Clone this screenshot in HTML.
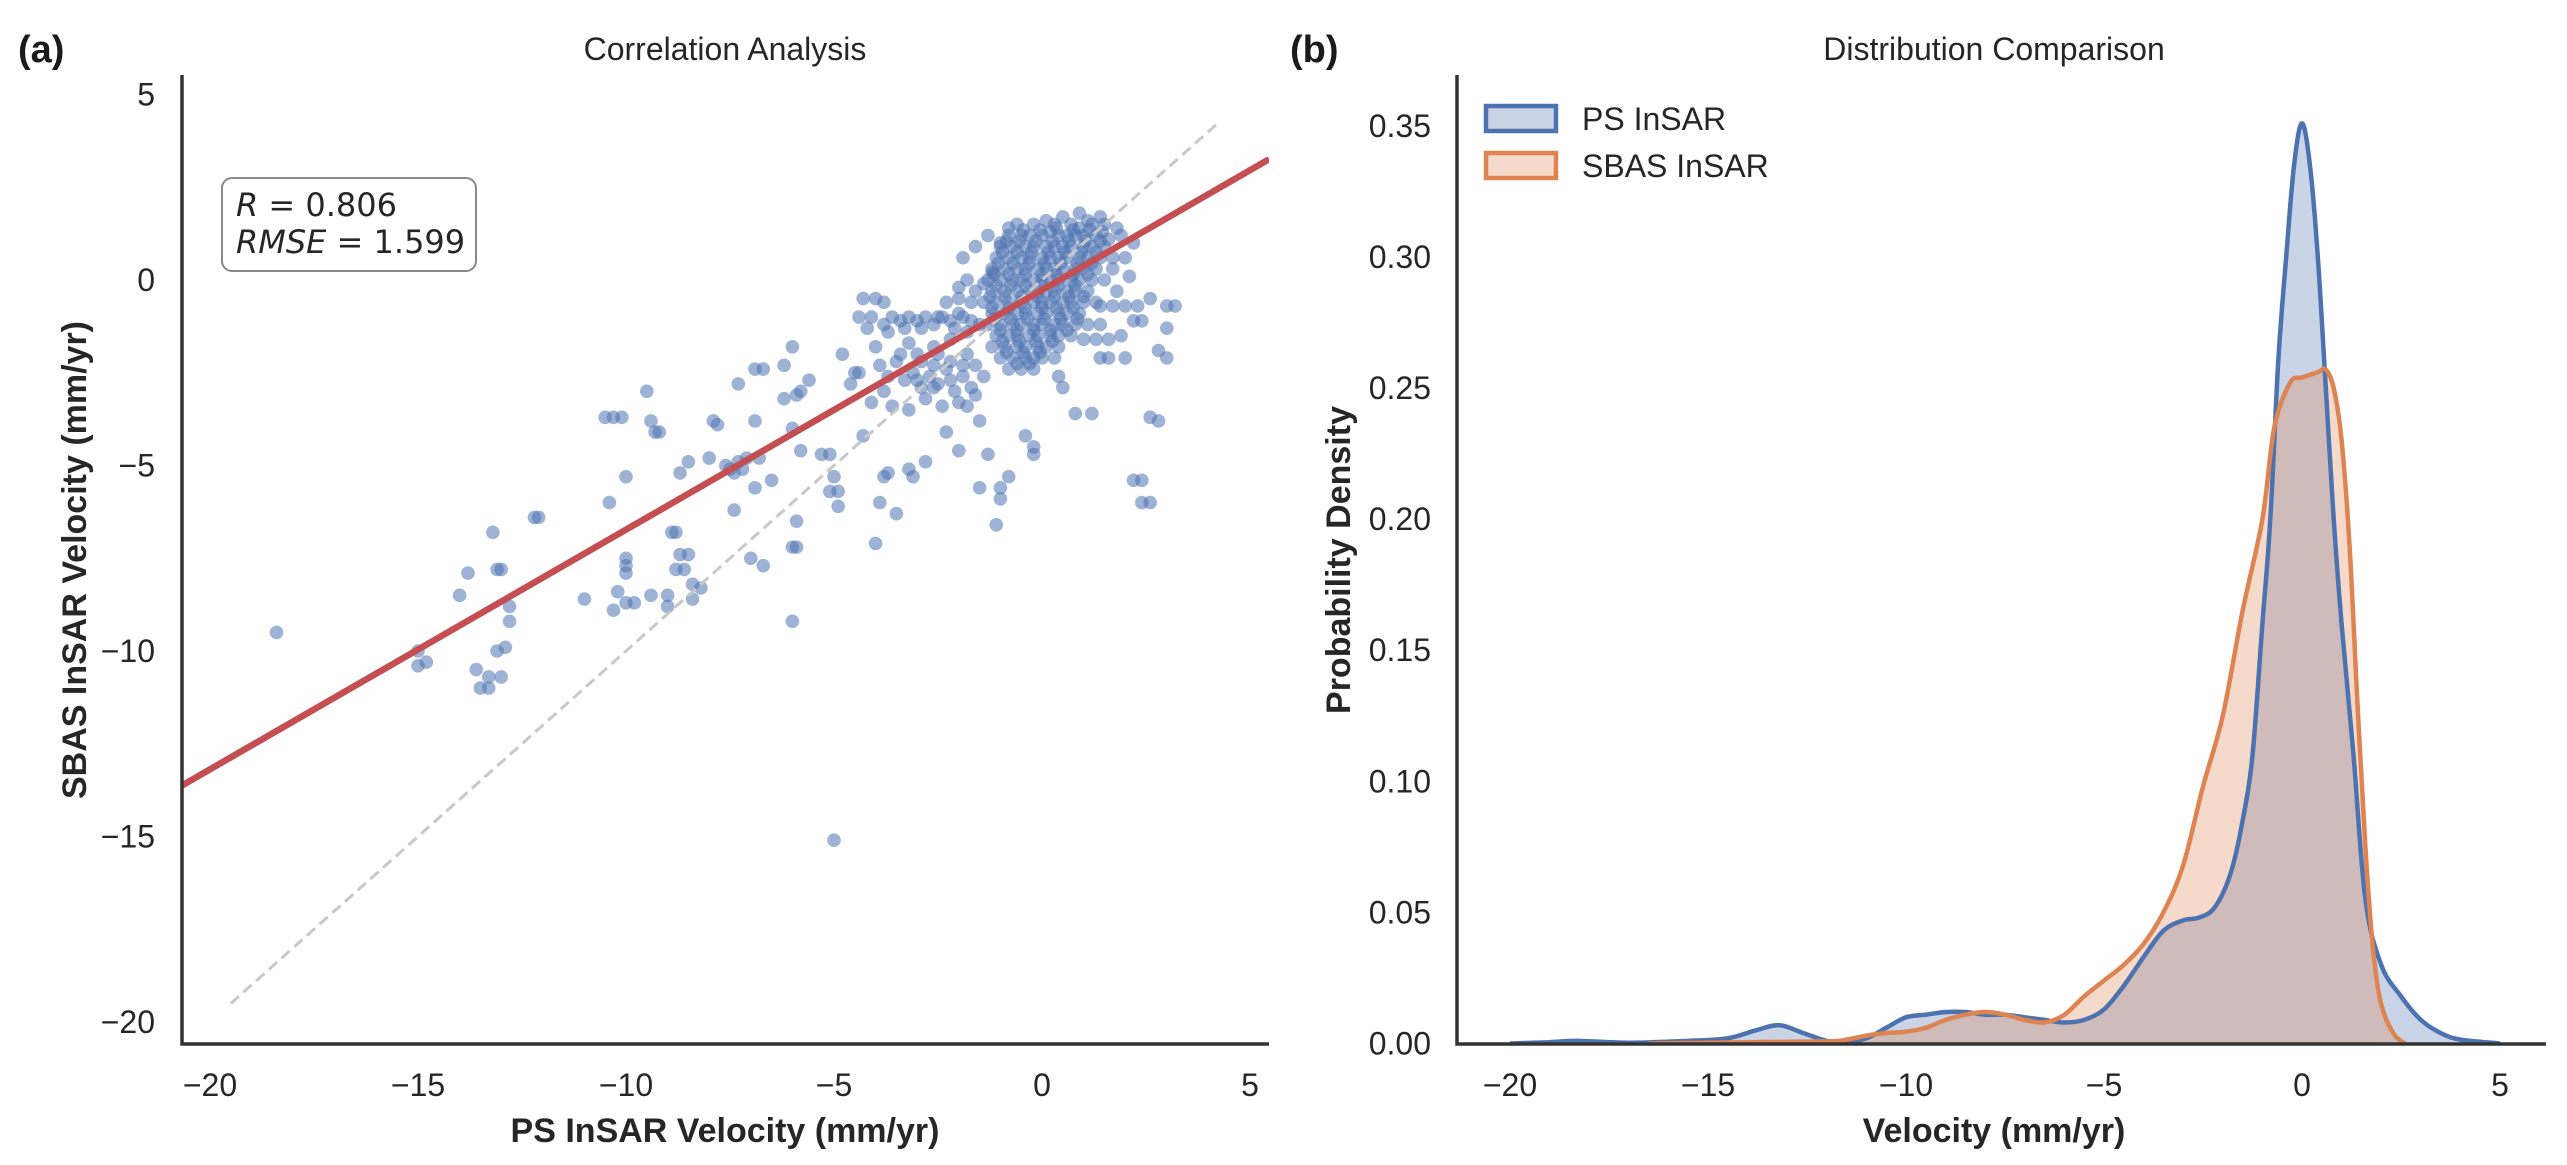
<!DOCTYPE html>
<html><head><meta charset="utf-8"><title>InSAR comparison</title>
<style>
html,body{margin:0;padding:0;background:#fff;}
svg{display:block;font-family:"Liberation Sans",Arial,sans-serif;}
</style></head>
<body>
<svg id="fig" width="2567" height="1165" viewBox="0 0 2567 1165" xmlns="http://www.w3.org/2000/svg">
<rect width="2567" height="1165" fill="#fff"/>
<g id="panelA"></g>
<g id="panelB"></g>
</svg>
<script>
// ---------- Panel (a) data ----------
const scatterPoints = [
[-18.4,-9.5],[-15,-10],[-15,-10.4],[-14.8,-10.3],[-14,-8.5],[-13.8,-7.9],[-13.6,-10.5],[-13.5,-11],[-13.3,-11],[-13.2,-6.8],[-13.1,-7.8],[-13,-7.8],[-13.1,-10],[-13,-10.7],[-12.9,-9.9],[-12.8,-8.8],[-12.8,-9.2],[-13.3,-10.7],[-12.2,-6.4],[-12.1,-6.4],[-11,-8.6],
[-10.5,-3.7],[-10.3,-3.7],[-10.1,-3.7],[-10.4,-6],[-10,-5.3],[-10.2,-8.4],[-10.3,-8.9],[-10,-8.7],[-9.8,-8.7],[-10,-7.5],[-10,-7.7],[-10,-7.9],[-9.5,-3],[-9.4,-3.8],[-9.3,-4.1],[-9.2,-4.1],[-9.4,-8.5],[-9,-8.5],[-9,-8.8],[-8.9,-6.8],[-8.8,-6.8],[-8.8,-7.8],[-8.7,-7.4],[-8.6,-7.8],[-8.5,-7.4],[-8.4,-8.2],[-8.4,-8.6],[-8.7,-5.2],[-8.5,-4.9],[-8.2,-8.3],[-8,-4.8],[-7.9,-3.8],[-7.8,-3.9],[-7.6,-5.0],[-7.5,-5.1],[-7.4,-5.2],[-7.3,-4.9],[-7.2,-5.1],[-7.1,-4.8],[-7.4,-6.2],[-7.3,-2.8],[-6.9,-5.6],[-6.9,-3.8],[-6.8,-4.8],[-6.5,-5.4],[-7,-7.5],[-6.7,-7.7],[-6.9,-2.4],[-6.7,-2.4],[-6.2,-2.3],[-6,-1.8],[-6.2,-3.2],[-5.9,-3.1],[-5.8,-3],[-5.6,-2.7],[-6,-4],[-5.8,-4.6],[-6,-7.2],[-5.9,-7.2],[-6,-9.2],[-5.9,-6.5],
[-5.3,-4.7],[-5.1,-4.7],[-5,-5.3],[-5.1,-5.7],[-4.9,-5.7],[-4.9,-6.1],[-5,-15.1],[-4.5,-2.5],[-4.4,-2.5],[-4.3,-4.2],[-4.2,-1.3],[-4.3,-0.5],[-4,-0.5],[-3.8,-0.6],[-4,-7.1],[-3.8,-5.3],[-3.7,-5.2],[-3.5,-6.3],[-3.9,-6.0],[-3.2,-5.1],[-3.1,-5.3],[-2.8,-4.9],[-4.8,-2.0],[-4.6,-2.8],[-4.1,-3.3],[-2.3,-4.1],[-2.0,-4.6],[-1.5,-3.8],[-1.3,-4.7],[-1.5,-5.6],[-1.0,-5.6],[-1.0,-5.9],[-1.1,-6.6],[-0.8,-5.3],[-0.4,-4.2],[-0.2,-4.5],[-0.2,-4.7],[0.8,-3.6],[1.2,-3.6],[2.2,-5.4],[2.4,-5.4],[2.4,-6],[2.6,-6],[2.8,-3.8],[2.6,-3.7],[2.8,-1.9],[3,-2.1],[3,-0.7],[3.2,-0.7],[3,-1.3],[1.4,-2.1],[1.6,-2.1],[2.2,-1.1],[2.4,-1.1],[2.6,-0.5],[2,-2.1],[1,-1.6],
[-3.8,-1.2],[-3.6,-1.0],[-3.4,-1.1],[-3.2,-1.0],[-3,-1.1],[-2.8,-1.0],[-2.6,-1.2],[-2.4,-1.0],[-2.2,-1.1],[-2,-0.9],[-3.9,-2.3],[-3.7,-2.6],[-3.5,-2.2],[-3.3,-2.7],[-3.1,-2.5],[-2.9,-2.9],[-2.7,-2.6],[-2.5,-2.8],[-2.3,-2.4],[-2.1,-3.0],[-1.9,-2.6],[-1.7,-2.9],[-3.6,-3.4],[-3.2,-3.5],[-2.8,-3.2],[-2.4,-3.4],[-2,-3.3],[-1.6,-3.1],[-4.0,-1.8],[-3.8,-3.0],[-2.6,-1.8],[-2.2,-1.6],[-1.8,-1.4],[-1.6,-0.3],[-1.4,-0.1],[-1.2,0.2],[-1.8,0.0],[-2.0,-0.2],[-1.3,1.2],[-1.0,1.0],[-0.8,1.4],[-3.2,-1.7],[-2.9,-2.2],[-2.5,-2.0],[-1.8,-2.0],[-1.5,-1.2],[-1.6,-2.3],[-1.4,-2.6],
[-4.4,-1.0],[-4.1,-1.0],[-3.7,-1.4],[-3.3,-1.3],[-2.9,-1.3],[-2.5,-1.0],[-2.1,-1.3],[-1.9,-1.0],[-1.7,-1.1],[-3.4,-2.0],[-3.0,-2.0],[-2.6,-2.3],[-2.2,-2.2],[-1.9,-2.3],[-3.0,-2.7],[-2.6,-2.9],[-2.2,-2.7],[-1.8,-3.4],[-2.0,-0.5],[-1.7,-0.6],[-2.3,-0.6],[-1.9,0.6],[-1.6,0.9],
[-0.6,1.5],[-0.2,1.5],[0.1,1.6],[0.3,1.5],[0.5,1.7],[0.7,1.5],[0.9,1.4],[1.2,1.5],[1.5,1.5],
[-0.8,1.2],[-0.5,1.2],[-0.3,1.2],[0,1.2],[0.2,1.3],[0.4,1.2],[0.6,1.2],[0.8,1.2],[1.0,1.2],[1.3,1.2],[1.6,1.1],[1.9,1.2],
[-1.0,0.9],[-0.7,0.9],[-0.4,0.9],[-0.2,0.9],[0.1,0.9],[0.3,0.9],[0.5,0.9],[0.7,0.9],[1.0,0.9],[1.2,0.9],[1.5,0.9],
[-1.1,0.6],[-0.8,0.6],[-0.5,0.6],[-0.3,0.6],[0,0.6],[0.2,0.6],[0.4,0.6],[0.6,0.6],[0.9,0.6],[1.1,0.6],[1.4,0.6],[1.7,0.6],[2.0,0.6],
[-1.2,0.3],[-0.9,0.3],[-0.6,0.3],[-0.4,0.3],[-0.1,0.3],[0.1,0.3],[0.3,0.3],[0.5,0.3],[0.8,0.3],[1.0,0.3],[1.3,0.3],
[-1.3,0],[-1.0,0],[-0.7,0],[-0.5,0],[-0.2,0],[0,0],[0.2,0],[0.4,0],[0.7,0],[0.9,0],[1.2,0],[1.5,0],
[-1.2,-0.3],[-0.9,-0.3],[-0.6,-0.3],[-0.3,-0.3],[-0.1,-0.3],[0.1,-0.3],[0.3,-0.3],[0.6,-0.3],[0.8,-0.3],[1.1,-0.3],
[-1.4,-0.6],[-1.1,-0.6],[-0.8,-0.6],[-0.5,-0.6],[-0.2,-0.6],[0,-0.6],[0.2,-0.6],[0.5,-0.6],[0.7,-0.6],[1.0,-0.6],[1.3,-0.6],
[-1.2,-0.9],[-0.9,-0.9],[-0.6,-0.9],[-0.4,-0.9],[-0.1,-0.9],[0.1,-0.9],[0.4,-0.9],[0.6,-0.9],[0.9,-0.9],
[-1.3,-1.2],[-1.0,-1.2],[-0.7,-1.2],[-0.5,-1.2],[-0.2,-1.2],[0,-1.2],[0.3,-1.2],[0.5,-1.2],[0.8,-1.2],[1.1,-1.2],[1.4,-1.2],
[-1.1,-1.5],[-0.8,-1.5],[-0.6,-1.5],[-0.3,-1.5],[-0.1,-1.5],[0.2,-1.5],[0.4,-1.5],[0.7,-1.5],
[-1.2,-1.8],[-0.9,-1.8],[-0.6,-1.8],[-0.4,-1.8],[-0.1,-1.8],[0.1,-1.8],[0.4,-1.8],
[-1.0,-2.1],[-0.7,-2.1],[-0.4,-2.1],[-0.2,-2.1],[0.0,-2.1],[0.3,-2.1],
[-0.8,-2.4],[-0.5,-2.4],[-0.2,-2.4],[0.4,-2.6],[0.5,-2.9],
[-0.45,1.35],[-0.05,1.35],[0.35,1.4],[0.75,1.35],[1.15,1.35],[1.45,1.3],[-0.85,1.05],[-0.55,1.05],[-0.15,1.05],[0.25,1.05],[0.65,1.05],[1.05,1.05],[1.4,1.05],
[-0.95,0.75],[-0.6,0.75],[-0.25,0.75],[0.15,0.75],[0.55,0.75],[0.95,0.75],[1.3,0.75],[-1.05,0.45],[-0.7,0.45],[-0.3,0.45],[0.05,0.45],[0.45,0.45],[0.85,0.45],[1.2,0.45],
[-1.15,0.15],[-0.8,0.15],[-0.4,0.15],[0.0,0.15],[0.35,0.15],[0.75,0.15],[1.1,0.15],[-1.1,-0.15],[-0.75,-0.15],[-0.4,-0.15],[0.0,-0.15],[0.4,-0.15],[0.8,-0.15],
[-1.25,-0.45],[-0.9,-0.45],[-0.5,-0.45],[-0.1,-0.45],[0.3,-0.45],[0.65,-0.45],[1.0,-0.45],[-1.2,-0.75],[-0.8,-0.75],[-0.4,-0.75],[0.0,-0.75],[0.35,-0.75],[0.75,-0.75],
[-1.15,-1.05],[-0.75,-1.05],[-0.35,-1.05],[0.05,-1.05],[0.45,-1.05],[0.85,-1.05],[-1.0,-1.35],[-0.6,-1.35],[-0.2,-1.35],[0.2,-1.35],[0.6,-1.35],
[-0.95,-1.65],[-0.55,-1.65],[-0.15,-1.65],[0.25,-1.65],[-0.85,-1.95],[-0.45,-1.95],[-0.05,-1.95],[-0.6,-2.25],[-0.3,-2.25],
[1.4,-0.7],[1.7,-0.7],[2.0,-0.7],[2.3,-0.7],[1.3,-1.6],[1.6,-1.6],[1.9,-1.5],[1.7,0.3],[2.1,0.1],[1.8,-0.3],[2.2,1.0],[1.1,1.6],[1.4,1.7],[0.9,1.8],[1.8,1.4]
];
const fitSlope = 0.646, fitIntercept = -0.27;
const identityRange = [-19.5, 4.2];
const aXTicks = [-20,-15,-10,-5,0,5];
const aYTicks = [5,0,-5,-10,-15,-20];

// ---------- Panel (b) data ----------
const psKdeX =   [-20,-19,-18.3,-17,-15.5,-14.5,-13.8,-13.2,-12.6,-12,-11.5,-11,-10.5,-10,-9.5,-9,-8.5,-8,-7.5,-7,-6.5,-6,-5.5,-5,-4.5,-4,-3.5,-3,-2.6,-2.2,-1.8,-1.5,-1.25,-1,-0.8,-0.6,-0.4,-0.2,0,0.2,0.4,0.6,0.8,1,1.3,1.6,2,2.5,3,3.5,4,5];
const psKdeY =   [0,0.0005,0.001,0.0003,0.001,0.002,0.005,0.007,0.004,0.001,0.0005,0.002,0.006,0.010,0.011,0.012,0.012,0.011,0.011,0.010,0.009,0.008,0.009,0.013,0.022,0.033,0.043,0.047,0.048,0.052,0.065,0.085,0.11,0.16,0.20,0.26,0.30,0.335,0.351,0.335,0.30,0.25,0.20,0.16,0.11,0.055,0.03,0.018,0.009,0.004,0.0015,0];
const sbasKdeX = [-16.5,-14,-12,-11.5,-11,-10.5,-10,-9.5,-9,-8.5,-8,-7.5,-7,-6.5,-6,-5.5,-5,-4.5,-4,-3.5,-3,-2.5,-2,-1.5,-1,-0.7,-0.3,0,0.4,0.6,0.8,1,1.2,1.4,1.6,1.8,2,2.3,2.6];
const sbasKdeY = [0,0.0005,0.0008,0.0015,0.003,0.004,0.0045,0.006,0.009,0.011,0.012,0.011,0.009,0.008,0.011,0.018,0.024,0.030,0.038,0.050,0.068,0.098,0.125,0.165,0.20,0.235,0.252,0.254,0.256,0.257,0.25,0.23,0.19,0.13,0.075,0.035,0.015,0.004,0];
const bXTicks = [-20,-15,-10,-5,0,5];
const bYTicks = [0,0.05,0.10,0.15,0.20,0.25,0.30,0.35];

const NS = "http://www.w3.org/2000/svg";
function mk(parent, tag, attrs, text){
  const e = document.createElementNS(NS, tag);
  for (const k in attrs) e.setAttribute(k, attrs[k]);
  if (text !== undefined) e.textContent = text;
  parent.appendChild(e);
  return e;
}
function fmtMinus(v){ return v < 0 ? "\u2212" + Math.abs(v) : String(v); }

// ---------- Panel (a) ----------
const A = document.getElementById('panelA');
const aL = 182, aR = 1269, aT = 75, aB = 1044;
const ax = v => 1042 + v * 41.6;
const ay = v => 280 - v * 37.1;

const clipA = mk(A, 'clipPath', {id:'clipA'});
mk(clipA, 'rect', {x:aL, y:aT, width:aR-aL, height:aB-aT});

const ptsG = mk(A, 'g', {'clip-path':'url(#clipA)'});


scatterPoints.forEach(p => {
  const c = mk(ptsG, 'circle', {cx: ax(p[0]), cy: ay(p[1]), r: 6.8, fill: '#4c72b0', 'fill-opacity': 0.55});
  
  
});

const idl = mk(A, 'line', {x1: ax(identityRange[0]), y1: ay(identityRange[0]), x2: ax(identityRange[1]), y2: ay(identityRange[1]), stroke:'#c8c8c8', 'stroke-width':3, 'stroke-dasharray':'11,6'});



const xa0 = -20.67, xa1 = 5.46;
const fit = mk(A, 'line', {x1: ax(xa0), y1: ay(fitSlope*xa0+fitIntercept), x2: ax(xa1), y2: ay(fitSlope*xa1+fitIntercept), stroke:'#c44e52', 'stroke-width':6.5, 'clip-path':'url(#clipA)'});



mk(A, 'path', {d:`M${aL},${aT} V${aB} H${aR}`, fill:'none', stroke:'#333', 'stroke-width':3.5});
aXTicks.forEach(t => {
  const e = mk(A, 'text', {x: ax(t), y: 1096, 'font-size':32, 'text-anchor':'middle', fill:'#262626'}, fmtMinus(t));
  
  
});
aYTicks.forEach(t => {
  const e = mk(A, 'text', {x: 155, y: ay(t)+11, 'font-size':32, 'text-anchor':'end', fill:'#262626'}, fmtMinus(t));
  
  
});
</script>
<script>
(function(){
const A = document.getElementById('panelA');
const NS = "http://www.w3.org/2000/svg";
function mk(parent, tag, attrs, text){ const e=document.createElementNS(NS,tag); for(const k in attrs) e.setAttribute(k,attrs[k]); if(text!==undefined) e.textContent=text; parent.appendChild(e); return e; }
let e;
e = mk(A,'rect',{x:222,y:178,width:254,height:93,rx:10,fill:'#fff',stroke:'#888','stroke-width':2});


e = mk(A,'text',{x:236,y:216,'font-size':32,fill:'#262626','font-family':'"DejaVu Sans",sans-serif'});


e.innerHTML = '<tspan font-style="italic">R</tspan> = 0.806';
e = mk(A,'text',{x:236,y:253,'font-size':32,fill:'#262626','font-family':'"DejaVu Sans",sans-serif'});


e.innerHTML = '<tspan font-style="italic">RMSE</tspan> = 1.599';
e = mk(A,'text',{x:725,y:60,'font-size':32,'text-anchor':'middle',fill:'#262626'},'Correlation Analysis');


e = mk(A,'text',{x:18,y:62,'font-size':38,'font-weight':'bold',fill:'#1a1a1a'},'(a)');


e = mk(A,'text',{x:725,y:1142,'font-size':34,'font-weight':'bold','text-anchor':'middle',fill:'#262626'},'PS InSAR Velocity (mm/yr)');


e = mk(A,'text',{x:0,y:0,'font-size':34,'font-weight':'bold','text-anchor':'middle',fill:'#262626',transform:'translate(86,560) rotate(-90)'},'SBAS InSAR Velocity (mm/yr)');


})();
</script>
<script>
// ---------- Panel (b) ----------
const B = document.getElementById('panelB');
const bL = 1457, bR = 2546, bT = 75, bB = 1044;
const bx = v => 2302 + v * 39.6;
const by = v => 1043.5 - v * (131.1/0.05);

function kdePath(xs, ys, closed){
  const P = xs.map((x,i) => [bx(x), by(ys[i])]);
  let d = 'M' + P[0][0].toFixed(1) + ',' + P[0][1].toFixed(1);
  for (let i = 0; i < P.length - 1; i++) {
    const p0 = P[Math.max(i-1,0)], p1 = P[i], p2 = P[i+1], p3 = P[Math.min(i+2,P.length-1)];
    const c1x = p1[0] + (p2[0]-p0[0])/6, c1y = p1[1] + (p2[1]-p0[1])/6;
    const c2x = p2[0] - (p3[0]-p1[0])/6, c2y = p2[1] - (p3[1]-p1[1])/6;
    d += ` C${c1x.toFixed(1)},${Math.min(c1y,by(0)).toFixed(1)} ${c2x.toFixed(1)},${Math.min(c2y,by(0)).toFixed(1)} ${p2[0].toFixed(1)},${p2[1].toFixed(1)}`;
  }
  if (closed) d += ` L${bx(xs[xs.length-1]).toFixed(1)},${by(0)} L${bx(xs[0]).toFixed(1)},${by(0)} Z`;
  return d;
}
let e;
e = mk(B,'path',{d:kdePath(psKdeX,psKdeY,true),fill:'#4c72b0','fill-opacity':0.3,stroke:'none'});


e = mk(B,'path',{d:kdePath(sbasKdeX,sbasKdeY,true),fill:'#dd8452','fill-opacity':0.3,stroke:'none'});


e = mk(B,'path',{d:kdePath(psKdeX,psKdeY,false),fill:'none',stroke:'#4c72b0','stroke-width':4.5,'stroke-linejoin':'round'});


e = mk(B,'path',{d:kdePath(sbasKdeX,sbasKdeY,false),fill:'none',stroke:'#dd8452','stroke-width':4.5,'stroke-linejoin':'round'});



mk(B,'path',{d:`M${bL},${bT} V${bB} H${bR}`,fill:'none',stroke:'#333','stroke-width':3.5});
bXTicks.forEach(t => {
  const el = mk(B,'text',{x:bx(t),y:1096,'font-size':32,'text-anchor':'middle',fill:'#262626'},fmtMinus(t));
  
  
});
bYTicks.forEach(t => {
  const el = mk(B,'text',{x:1431,y:by(t)+11,'font-size':32,'text-anchor':'end',fill:'#262626'},t.toFixed(2));
  
  
});

e = mk(B,'rect',{x:1486,y:106,width:70,height:25,fill:'#cad3e6',stroke:'#4c72b0','stroke-width':4.5});


e = mk(B,'text',{x:1582,y:130,'font-size':32,fill:'#262626'},'PS InSAR');


e = mk(B,'rect',{x:1486,y:153,width:70,height:25,fill:'#f5dacb',stroke:'#dd8452','stroke-width':4.5});


e = mk(B,'text',{x:1582,y:177,'font-size':32,fill:'#262626'},'SBAS InSAR');



e = mk(B,'text',{x:1994,y:60,'font-size':32,'text-anchor':'middle',fill:'#262626'},'Distribution Comparison');


e = mk(B,'text',{x:1290,y:62,'font-size':38,'font-weight':'bold',fill:'#1a1a1a'},'(b)');


e = mk(B,'text',{x:1994,y:1142,'font-size':34,'font-weight':'bold','text-anchor':'middle',fill:'#262626'},'Velocity (mm/yr)');


e = mk(B,'text',{x:0,y:0,'font-size':34,'font-weight':'bold','text-anchor':'middle',fill:'#262626',transform:'translate(1350,560) rotate(-90)'},'Probability Density');


</script>
</body></html>
